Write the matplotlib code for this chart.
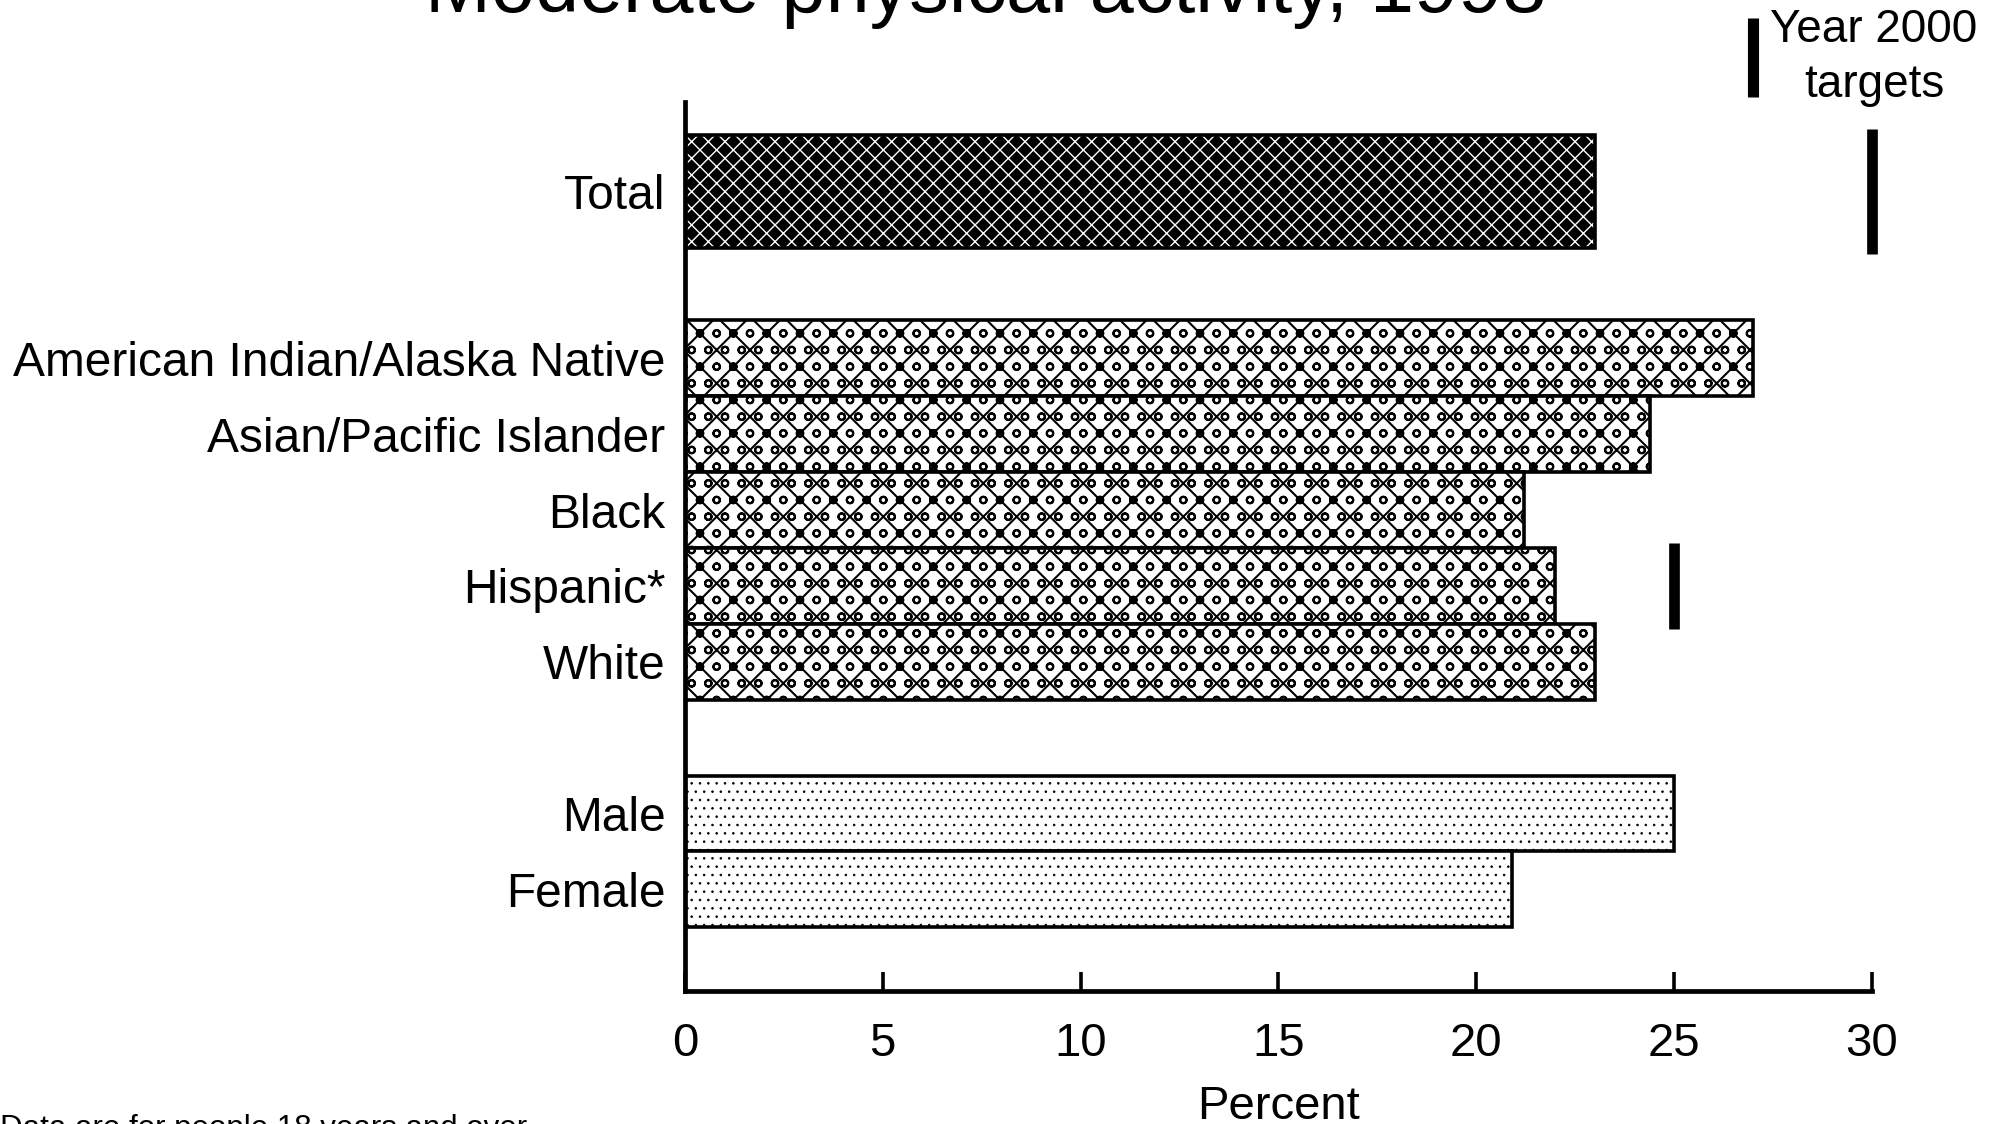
import matplotlib
matplotlib.use("Agg")
import matplotlib.pyplot as plt
import matplotlib.transforms as mtransforms

plt.rcParams['font.family'] = ['Liberation Sans', 'DejaVu Sans']

# bar data (percent of adults doing moderate physical activity)
labels = ["Total", "American Indian/Alaska Native", "Asian/Pacific Islander",
          "Black", "Hispanic*", "White", "Male", "Female"]
values = [23, 27, 24.4, 21.2, 22, 23, 25, 20.9]
groups = ["total", "race", "race", "race", "race", "race", "sex", "sex"]

# year 2000 targets
target_labels = ["Total", "Hispanic*"]
target_values = [30, 25]

ypos = [0, 2.2, 3.2, 4.2, 5.2, 6.2, 8.2, 9.2]
heights = [1.5, 1, 1, 1, 1, 1, 1, 1]

fig = plt.figure(figsize=(20.01, 11.24), dpi=100)
ax = fig.add_axes([0.3423, 0.1183, 0.5932, 0.791])

# fill pattern, pattern colour, background, pattern line width
styles = {"total": ("xx", "white", "black", 1.0),
          "race": ("xo", "black", "white", 1.5),
          "sex": ("..", "black", "white", 0.6)}
for y, v, h, g in zip(ypos, values, heights, groups):
    hatch, hc, bg, hlw = styles[g]
    with plt.rc_context({"hatch.linewidth": hlw}):
        ax.barh(y, v, height=h, color=bg, edgecolor=hc, hatch=hatch,
                linewidth=0)
    ax.barh(y, v, height=h, fill=False, edgecolor="black", linewidth=2.6)

# target markers
for lab, t in zip(target_labels, target_values):
    i = labels.index(lab)
    half = heights[i] / 2 + 0.07
    ax.plot([t, t], [ypos[i] - half, ypos[i] + half], color="black",
            linewidth=7.7, solid_capstyle="butt", clip_on=False)

# key for the target marker
trans = mtransforms.blended_transform_factory(ax.transData, ax.transAxes)
ax.plot([27, 27], [1.0056, 1.0945], color="black", linewidth=8,
        solid_capstyle="butt", transform=trans, clip_on=False)
ax.text(30.05, 1.05, "Year 2000\ntargets", transform=trans, ha="center",
        va="center", fontsize=33, linespacing=1.3)

ax.set_xlim(0, 30)
ax.set_ylim(10.54, -1.18)
ax.set_yticks(ypos)
ax.set_yticklabels(labels, fontsize=34.5)
ax.tick_params(axis="y", length=0, pad=14)
ax.set_xticks([0, 5, 10, 15, 20, 25, 30])
ax.tick_params(axis="x", direction="in", length=14, width=2.6, pad=22,
               labelsize=34)
ax.set_xlabel("Percent", fontsize=34, labelpad=14)

for s in ["top", "right"]:
    ax.spines[s].set_visible(False)
for s in ["left", "bottom"]:
    ax.spines[s].set_linewidth(3.4)
    ax.spines[s].set_capstyle("projecting")

fig.text(0.4925, 0.9893, "Moderate physical activity, 1998", ha="center",
         va="baseline", fontsize=57)
fig.text(0.0, 0.0089, "Data are for people 18 years and over.", ha="left",
         va="top", fontsize=22.5)

fig.savefig("out.png", dpi=100)
